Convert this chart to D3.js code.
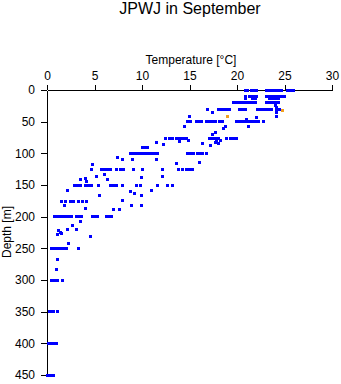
<!DOCTYPE html>
<html><head><meta charset="utf-8">
<script src="https://cdn.jsdelivr.net/npm/d3@7/dist/d3.min.js"></script>
<style>body{margin:0;background:#fff} svg text{font-family:"Liberation Sans",Arial,sans-serif;fill:#000}</style>
</head><body><svg id="c" width="341" height="384"></svg>
<script>
const chartTitle = "JPWJ in September";
const xLabel = "Temperature [°C]";
const yLabel = "Depth [m]";
const tempTicks = [0, 5, 10, 15, 20, 25, 30];
const depthTicks = [0, 50, 100, 150, 200, 250, 300, 350, 400, 450];

// [temperature °C, depth m]
const bluePoints = [
  // 0 m
  [20.9,0],[21.1,0],[21.5,0],[21.8,0],[22.1,0],[23.1,0],[23.3,0],[23.5,0],[23.7,0],[24.0,0],[24.2,0],[24.4,0],[24.7,0],[25.3,0],[25.6,0],[25.9,0],
  // 10 m
  [20.9,10],[21.3,10],[21.5,10],[21.7,10],[22.1,10],[23.1,10],[23.3,10],[23.5,10],[23.7,10],[23.9,10],[24.1,10],[24.3,10],[24.5,10],[24.7,10],[25.0,10],
  // 15 m
  [20.9,14],[21.6,14],[22.0,14],[23.4,14],[23.7,14],[24.1,14],[24.4,14],
  // 20 m
  [19.6,19],[19.9,19],[20.3,19],[20.6,19],[20.8,19],[21.0,19],[21.2,19],[21.4,19],[21.6,19],[21.8,19],[22.0,19],[23.1,19],[23.3,19],[23.5,19],[23.8,19],[24.0,19],[24.2,19],[24.4,19],
  [24.0,24],[24.2,27],
  // 30 m
  [16.9,30],[18.0,30],[18.3,30],[18.6,30],[18.9,30],[19.2,30],[20.3,30],[20.6,30],[20.9,30],[22.2,30],[22.4,30],[22.6,30],[22.8,30],[23.0,30],[23.2,30],[23.4,30],[23.6,30],[24.2,30],[24.5,30],
  [17.4,35],[15.0,42],[21.0,46],[22.1,44],[24.2,36],[24.2,42],
  // 50 m
  [14.8,50],[15.1,50],[15.7,50],[16.0,50],[16.3,50],[16.8,50],[17.1,50],[17.4,50],[17.7,50],[18.2,50],[18.5,50],[19.9,50],[20.2,50],[20.5,50],[20.8,50],[21.1,50],[21.4,50],[21.7,50],[22.0,50],[22.3,50],[22.8,50],
  [14.5,58],[18.8,57],[21.2,57],[18.6,61],[17.7,67],[17.4,71],
  // 75 m
  [12.5,76],[12.9,76],[13.2,76],[13.6,76],[13.9,76],[14.2,76],[14.5,76],[14.7,76],[17.1,76],[17.4,76],[17.7,76],[18.0,76],[18.9,76],[19.3,76],[19.6,76],[19.9,76],
  [14.9,80],[13.9,81],[11.5,83],[12.3,86],[16.4,84],[17.2,88],[17.8,82],[18.3,80],[18.1,84],[17.7,83],
  [10.0,91],[10.3,91],[10.6,91],
  // 100 m
  [8.8,100],[9.0,100],[9.2,100],[9.4,100],[9.6,100],[9.8,100],[10.0,100],[10.2,100],[10.4,100],[10.6,100],[10.9,100],[11.1,100],[11.3,100],[11.6,100],[14.8,100],[15.1,100],[15.4,100],[15.8,100],[16.1,100],[16.4,100],[16.8,100],
  [7.4,107],[7.9,110],[9.0,109],[11.5,110],[13.6,116],[16.0,114],[4.8,118],
  // 125 m
  [4.7,125],[5.7,125],[6.0,125],[6.4,125],[6.7,125],[7.3,125],[7.7,125],[8.1,125],[9.1,125],[10.0,125],[12.2,125],[13.8,125],[14.3,125],[14.7,125],[15.0,125],[15.3,125],
  [5.2,136],[6.0,133],[6.4,141],[4.0,139],[3.5,141],[9.9,138],[12.2,136],[4.2,145],
  // 150 m
  [2.9,150],[3.2,150],[3.5,150],[4.1,150],[4.4,150],[4.7,150],[5.4,150],[6.7,150],[7.0,150],[7.3,150],[7.9,150],[9.4,150],[9.8,150],[11.6,150],[12.7,150],[13.2,150],
  [2.2,159],[5.5,166],[8.8,161],[9.2,164],[9.9,167],[11.0,158],
  [1.5,176],[1.9,176],[2.5,176],[2.8,176],[3.3,176],[3.7,176],[4.2,176],
  [1.8,183],[4.0,187],[7.9,174],[7.0,189],[7.6,188],[8.9,183],[9.9,183],
  // 200 m
  [0.8,200],[1.0,200],[1.2,200],[1.4,200],[1.6,200],[1.8,200],[2.0,200],[2.2,200],[2.4,200],[2.6,200],[3.1,200],[3.4,200],[3.6,200],[4.8,200],[5.1,200],[5.3,200],[6.3,200],[6.6,200],[6.8,200],
  [3.5,207],[2.7,214],[1.2,222],[1.4,225],[1.5,227],[1.1,228],[2.2,220],[3.1,220],[4.6,232],[2.3,242],
  // 250 m
  [0.5,250],[0.7,250],[0.9,250],[1.1,250],[1.3,250],[1.5,250],[1.7,250],[1.9,250],[2.0,250],[3.3,250],
  [1.1,267],[1.0,283],
  [0.5,300],[0.7,300],[0.9,300],[1.1,300],[1.6,300],
  [0.3,350],[0.5,350],[0.7,350],[1.1,350],
  [0.2,400],[0.4,400],[0.6,400],[0.8,400],[1.0,400],
  [0.1,450],[0.3,450],[0.5,450],[0.7,450]
];
const orangePoints = [[24.8,33],[19.0,41.5]];

const svg = d3.select("#c");
const x = d3.scaleLinear().domain([0, 30]).range([47, 332]);
const y = d3.scaleLinear().domain([0, 450]).range([90, 375]);

svg.append("text").attr("x", 190).attr("y", 14).attr("text-anchor", "middle")
  .style("font-size", "16px").text(chartTitle);
svg.append("text").attr("x", 191).attr("y", 64).attr("text-anchor", "middle")
  .style("font-size", "12px").text(xLabel);
svg.append("text").attr("transform", "translate(11,232) rotate(-90)").attr("text-anchor", "middle")
  .style("font-size", "12px").text(yLabel);

const gx = svg.append("g").attr("transform", "translate(0,90)")
  .call(d3.axisTop(x).tickValues(tempTicks).tickSize(5).tickSizeOuter(0).tickPadding(5));
const gy = svg.append("g").attr("transform", "translate(47,0)")
  .call(d3.axisLeft(y).tickValues(depthTicks).tickSize(6).tickSizeOuter(0).tickPadding(6));
[gx, gy].forEach(g => {
  g.attr("font-family", null).attr("font-size", null);
  g.selectAll("text").style("font-size", "12px");
  g.selectAll("path,line").attr("stroke", "#000").attr("shape-rendering", "crispEdges");
});

const sz = 3;
svg.append("g").attr("shape-rendering", "crispEdges").selectAll("rect.b").data(bluePoints).join("rect")
  .attr("x", d => Math.round(x(d[0]) - sz / 2)).attr("y", d => Math.round(y(d[1]) - sz / 2))
  .attr("width", sz).attr("height", sz).attr("fill", "#0000ff");
svg.append("g").attr("shape-rendering", "crispEdges").selectAll("rect.o").data(orangePoints).join("rect")
  .attr("x", d => Math.round(x(d[0]) - sz / 2)).attr("y", d => Math.round(y(d[1]) - sz / 2))
  .attr("width", sz).attr("height", sz).attr("fill", "#f0a020");
</script></body></html>
